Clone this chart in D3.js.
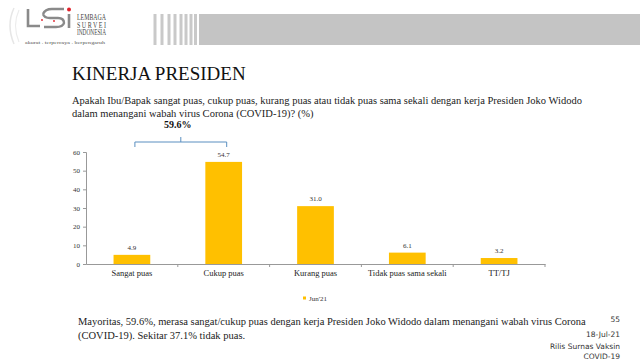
<!DOCTYPE html>
<html>
<head>
  <meta charset="utf-8">
  <style>
    body { margin: 0; background: #ffffff; }
    svg text { font-family: "Liberation Serif", "Times New Roman", serif; }
    svg text.page { font-family: "DejaVu Sans", sans-serif; }
  </style>
</head>
<body>
  <div id="chart"></div>
  <script src="https://cdn.jsdelivr.net/npm/d3@7"></script>
  <script>
  // data
  var categories = ["Sangat puas", "Cukup puas", "Kurang puas", "Tidak puas sama sekali", "TT/TJ"];
  var values = [4.9, 54.7, 31.0, 6.1, 3.2];
  var yTicks = [0, 10, 20, 30, 40, 50, 60];
  var seriesName = "Jun'21";
  var bracketCats = ["Sangat puas", "Cukup puas"];
  var bracketLabel = "59.6%";
  var questionLines = [
    "Apakah Ibu/Bapak sangat puas, cukup puas, kurang puas atau tidak puas sama sekali dengan kerja Presiden Joko Widodo",
    "dalam menangani wabah virus Corona (COVID-19)? (%)"
  ];
  var footerLines = [
    "Mayoritas, 59.6%, merasa sangat/cukup puas dengan kerja Presiden Joko Widodo dalam menangani wabah virus Corona",
    "(COVID-19). Sekitar 37.1% tidak puas."
  ];
  var pageInfo = ["55", "18-Jul-21", "Rilis Surnas Vaksin", "COVID-19"];

  var svg = d3.select("#chart").append("svg").attr("width", 640).attr("height", 363)
    .style("display", "block");

  // header band: a thick grey line, then thin stripes in front of it
  svg.append("line").attr("x1", 199).attr("x2", 640).attr("y1", 29.5).attr("y2", 29.5)
    .attr("stroke", "#c4c4c4").attr("stroke-width", 31);
  var stripeX = [155, 162, 169, 175, 181, 186, 191, 195.5];
  stripeX.forEach(function(sx){
    svg.append("line").attr("x1", sx).attr("x2", sx).attr("y1", 14).attr("y2", 45)
      .attr("stroke", "#c9c9c9").attr("stroke-width", 3);
  });

  // logo
  svg.append("path").attr("d", "M14,8 Q6,25 14,44").attr("fill", "none").attr("stroke", "#e6e6e6").attr("stroke-width", 1.5);
  svg.append("path").attr("d", "M19,10 Q12,25 19,42").attr("fill", "none").attr("stroke", "#ececec").attr("stroke-width", 1.2);
  svg.append("path").attr("d", "M28,9 L28,26 L40,26").attr("fill", "none").attr("stroke", "#8a8a8a").attr("stroke-width", 2.6);
  svg.append("path").attr("d", "M43,14 Q45,9 52,9 L64,9 M43,14 Q44,18 50,18 L58,18 Q64,18 64,23 Q63,27 56,27 L44,27")
    .attr("fill", "none").attr("stroke", "#8a8a8a").attr("stroke-width", 2.4);
  svg.append("path").attr("d", "M69,14 L69,28").attr("fill", "none").attr("stroke", "#8a8a8a").attr("stroke-width", 2.6);
  svg.append("circle").attr("cx", 69).attr("cy", 9.5).attr("r", 2).attr("fill", "#e0202a");
  svg.append("circle").attr("cx", 42).attr("cy", 20).attr("r", 0.9).attr("fill", "#e0202a");
  svg.append("circle").attr("cx", 54).attr("cy", 21).attr("r", 0.9).attr("fill", "#e0202a");
  ["LEMBAGA", "S U R V E I", "INDONESIA"].forEach(function(t, i){
    svg.append("text").attr("x", 77).attr("y", 20 + i * 7.5).text(t)
      .attr("font-size", 7.5).attr("fill", "#444")
      .attr("textLength", 29).attr("lengthAdjust", "spacingAndGlyphs");
  });
  svg.append("text").attr("x", 25).attr("y", 44).text("akurat . terpercaya . berpengaruh")
    .attr("font-size", 4.6).attr("fill", "#555")
    .attr("textLength", 80).attr("lengthAdjust", "spacingAndGlyphs");

  // title + question
  svg.append("text").attr("x", 72).attr("y", 80).text("KINERJA PRESIDEN")
    .attr("font-size", 19).attr("fill", "#111");
  questionLines.forEach(function(t, i){
    svg.append("text").attr("x", 72).attr("y", 104 + i * 13).text(t)
      .attr("font-size", 10.5).attr("fill", "#222");
  });

  // scales
  var x = d3.scaleBand().domain(categories).range([86, 545]);
  var y = d3.scaleLinear().domain([0, 60]).range([264, 152]);
  var barW = x.bandwidth() * 0.4;

  // y axis
  var gy = svg.append("g").attr("transform", "translate(86,0)")
    .call(d3.axisLeft(y).tickValues(yTicks).tickSize(3).tickPadding(3));
  gy.attr("font-family", null).attr("font-size", 7);
  gy.selectAll("text").attr("fill", "#333");
  gy.selectAll("line, path").attr("stroke", "#999");

  // x axis, small ticks on the category boundaries
  var gx = svg.append("g").attr("transform", "translate(0,264)")
    .call(d3.axisBottom(x).tickSize(0).tickPadding(6));
  gx.attr("font-family", null).attr("font-size", 8.5);
  gx.select(".domain").attr("stroke", "#999");
  gx.selectAll("text").attr("fill", "#222");
  gx.selectAll(".bound").data(categories).enter().append("line").attr("class", "bound")
    .attr("x1", function(d){ return x(d) + x.bandwidth(); })
    .attr("x2", function(d){ return x(d) + x.bandwidth(); })
    .attr("y1", 0).attr("y2", 3).attr("stroke", "#999");

  // bars
  svg.append("g").selectAll("rect").data(values).enter().append("rect")
    .attr("x", function(d, i){ return x(categories[i]) + x.bandwidth() / 2 - barW / 2; })
    .attr("y", function(d){ return y(d); })
    .attr("width", barW)
    .attr("height", function(d){ return y(0) - y(d); })
    .attr("fill", "#ffc000");

  svg.append("g").selectAll("text").data(values).enter().append("text")
    .attr("x", function(d, i){ return x(categories[i]) + x.bandwidth() / 2; })
    .attr("y", function(d){ return y(d) - 5; })
    .attr("text-anchor", "middle")
    .text(function(d){ return d.toFixed(1); })
    .attr("font-size", 7).attr("fill", "#333");

  // bracket over the first two bars
  var bx0 = x(bracketCats[0]) + x.bandwidth() / 2 + 3;
  var bx1 = x(bracketCats[1]) + x.bandwidth() / 2 + 3;
  var bTop = y(60) - 10;
  var bmid = (bx0 + bx1) / 2;
  svg.append("path")
    .attr("d", "M" + bx0 + "," + (bTop + 5) + " L" + bx0 + "," + bTop + " L" + bx1 + "," + bTop + " L" + bx1 + "," + (bTop + 5) +
      " M" + bmid + "," + bTop + " L" + bmid + "," + (bTop - 5))
    .attr("fill", "none").attr("stroke", "#5b8fc0").attr("stroke-width", 1);
  svg.append("text").attr("x", bmid - 3).attr("y", bTop - 14).attr("text-anchor", "middle").text(bracketLabel)
    .attr("font-size", 10).attr("font-weight", "bold").attr("fill", "#111");

  // legend
  svg.append("rect").attr("x", 303).attr("y", 296.5).attr("width", 3).attr("height", 3).attr("fill", "#ffc000");
  svg.append("text").attr("x", 309).attr("y", 301).text(seriesName)
    .attr("font-size", 7).attr("fill", "#333");

  // footer
  footerLines.forEach(function(t, i){
    svg.append("text").attr("x", 78).attr("y", 325 + i * 14).text(t)
      .attr("font-size", 10.5).attr("fill", "#222");
  });
  var pageY = [322, 337, 349, 359];
  pageInfo.forEach(function(t, i){
    svg.append("text").attr("class", "page").attr("x", 620).attr("y", pageY[i]).attr("text-anchor", "end").text(t)
      .attr("font-size", 7.5).attr("fill", "#333");
  });
  </script>
</body>
</html>
